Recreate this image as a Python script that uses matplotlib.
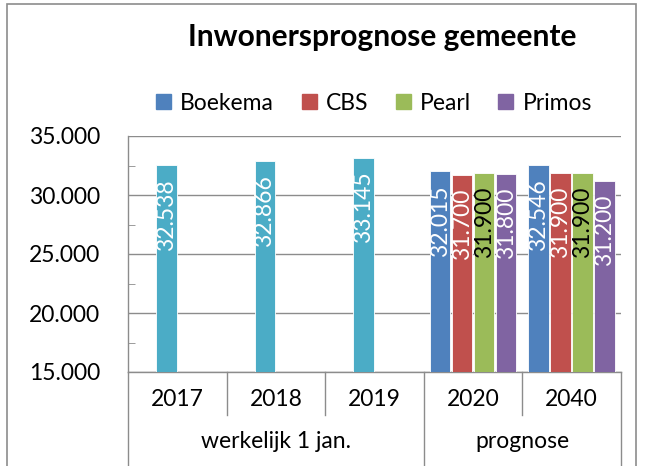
import numpy as np
import matplotlib
matplotlib.use("Agg")
import matplotlib.pyplot as plt
from matplotlib.patches import Rectangle, Patch
import matplotlib.transforms as mtransforms

plt.rcParams["font.family"] = ["Lato", "DejaVu Sans"]

# data
categories = ["2017", "2018", "2019", "2020", "2040"]
groups = ["werkelijk 1 jan.", "prognose"]
group_sizes = [3, 2]
actual = [32538, 32866, 33145, None, None]
series = ["Boekema", "CBS", "Pearl", "Primos"]
prognose = {
    "Boekema": [None, None, None, 32015, 32546],
    "CBS": [None, None, None, 31700, 31900],
    "Pearl": [None, None, None, 31900, 31900],
    "Primos": [None, None, None, 31800, 31200],
}
colors = {"Boekema": "#4F81BD", "CBS": "#C0504D", "Pearl": "#9BBB59",
          "Primos": "#8064A2", "actual": "#4BACC6"}
label_colors = {"Boekema": "white", "CBS": "white", "Pearl": "black",
                "Primos": "white", "actual": "white"}

def fmt(v):
    return f"{v:,.0f}".replace(",", ".")

FS = 16.5
W, H = 648, 466
fig = plt.figure(figsize=(W / 100, H / 100), dpi=100)
ax = fig.add_axes([128 / W, 1 - 372 / H, (621 - 128) / W, (372 - 136) / H])

# outer chart frame
fig.patches.append(Rectangle((7 / W, -0.05), (636 - 7) / W, 1.05 - 4 / H,
                             transform=fig.transFigure, fill=False,
                             edgecolor="#8c8c8c", linewidth=1.2))

x = np.arange(len(categories))
pitch = 0.223
bw = 0.208

def draw(vals, slot, key):
    for xi, v in zip(x, vals):
        if v is None:
            continue
        xc = xi + (slot - 1.5) * pitch
        ax.bar(xc, v - 15000, bottom=15000, width=bw, color=colors[key],
               edgecolor="white", linewidth=0.6, zorder=3)
        ax.annotate(fmt(v), (xc, v), xytext=(0, -10), textcoords="offset points",
                    rotation=90, ha="center", va="top", fontsize=FS,
                    color=label_colors[key], zorder=4)

draw(actual, 1, "actual")
for i, s in enumerate(series):
    draw(prognose[s], i, s)

ax.set_xlim(-0.5, len(categories) - 0.5)
ax.set_ylim(15000, 35000)
ax.set_yticks(np.arange(15000, 35001, 5000))
ax.set_yticklabels([fmt(v) for v in np.arange(15000, 35001, 5000)], fontsize=FS)
ax.set_yticks(np.arange(17500, 35000, 5000), minor=True)
ax.tick_params(axis="y", which="major", length=0, pad=20)
ax.tick_params(axis="y", which="minor", direction="in", length=5, color="#8c8c8c")
ax.grid(axis="y", color="#8c8c8c", linewidth=1, zorder=0)
ax.set_axisbelow(True)
for sp in ["top", "right"]:
    ax.spines[sp].set_visible(False)
for sp in ["left", "bottom"]:
    ax.spines[sp].set_color("#8c8c8c")
    ax.spines[sp].set_linewidth(1)

# multi level category axis
ax.set_xticks([])
trans = mtransforms.blended_transform_factory(ax.transData, ax.transAxes)
ax_h = 236
for xi, c in zip(x, categories):
    ax.text(xi, -28 / ax_h, c, transform=trans, ha="center", va="center",
            fontsize=FS)
bounds = np.cumsum([0] + group_sizes) - 0.5
for b in np.arange(-0.5, len(categories) + 0.5):
    bottom = -0.45 if b in bounds else -43 / ax_h
    ax.plot([b, b], [0, bottom], transform=trans, color="#8c8c8c",
            linewidth=1, clip_on=False)
for g, lo, hi in zip(groups, bounds[:-1], bounds[1:]):
    ax.text((lo + hi) / 2, -69 / ax_h, g, transform=trans, ha="center",
            va="center", fontsize=FS)

fig.text(382 / W, 1 - 37 / H, "Inwonersprognose gemeente", ha="center",
         va="center", fontsize=21.5, fontweight="bold")

handles = [Patch(color=colors[s]) for s in series]
fig.legend(handles, series, loc="center", bbox_to_anchor=(374 / W, 1 - 103 / H),
           ncol=4, frameon=False, fontsize=FS, handlelength=0.65,
           handleheight=0.65, handletextpad=0.4, columnspacing=1.2)

fig.savefig("out.png", dpi=100)
